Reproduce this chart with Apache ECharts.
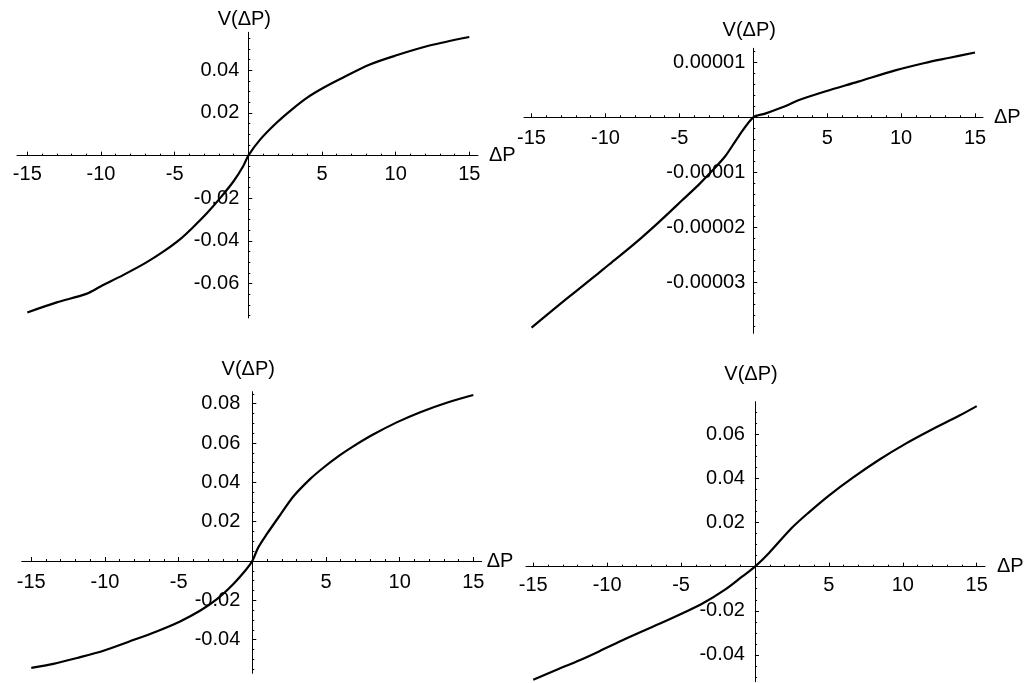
<!DOCTYPE html>
<html><head><meta charset="utf-8">
<script src="https://cdn.jsdelivr.net/npm/echarts@6/dist/echarts.min.js"></script>
<style>html,body{margin:0;padding:0;background:#fff}#c{width:1026px;height:683px}</style>
</head><body><div id="c"></div>
<script>
// ---- data ----
const xMajorTicks = [-15, -10, -5, 0, 5, 10, 15];
const xTickLabels = [-15, -10, -5, 5, 10, 15];
const xMinorTicks = [-15,-14,-13,-12,-11,-10,-9,-8,-7,-6,-5,-4,-3,-2,-1,0,1,2,3,4,5,6,7,8,9,10,11,12,13,14,15];

const dp1 = [-15,-13,-11,-10,-8.5,-7,-5.75,-4.6,-3.7,-2.8,-1.9,-1,-0.35,0,0.8,1.9,2.95,4,5.1,6.2,8.25,10,12.3,15];
const v1  = [-0.0735,-0.0688,-0.0648,-0.0612,-0.056,-0.0504,-0.0449,-0.039,-0.0332,-0.0269,-0.0198,-0.012,-0.005,0,0.0075,0.0153,0.0216,0.0272,0.0318,0.0358,0.0427,0.0469,0.0516,0.0556];
const yLabels1 = [-0.06, -0.04, -0.02, 0.02, 0.04];

const dp2 = [-15,-13.2,-12,-10.7,-9.8,-8.7,-7.55,-6.55,-5.75,-4.85,-3.7,-2.8,-1.9,-1,0,0.8,2.15,3.05,4.85,7.1,9.6,11.6,13.2,15];
const v2  = [-3.83e-5,-3.43e-5,-3.17e-5,-2.89e-5,-2.69e-5,-2.45e-5,-2.19e-5,-1.95e-5,-1.75e-5,-1.52e-5,-1.23e-5,-0.98e-5,-0.71e-5,-0.35e-5,0,0.067e-5,0.20e-5,0.31e-5,0.47e-5,0.65e-5,0.855e-5,0.99e-5,1.08e-5,1.18e-5];
const yLabels2 = [-0.00003, -0.00002, -0.00001, 0.00001];

const dp3 = [-15,-13.5,-11.9,-10.1,-8.3,-6.5,-4.9,-3.55,-2.4,-1.3,-0.4,0,0.4,0.97,1.9,2.8,3.9,4.8,5.95,6.85,8.2,9.8,11.4,13.2,15];
const v3  = [-0.0543,-0.0523,-0.0493,-0.0456,-0.0408,-0.0358,-0.0307,-0.0253,-0.0194,-0.0118,-0.0042,0,0.0068,0.0135,0.0235,0.0329,0.0415,0.0473,0.0538,0.0583,0.0643,0.0705,0.0757,0.0805,0.0844];
const yLabels3 = [-0.04, -0.02, 0.02, 0.04, 0.06, 0.08];

const dp4 = [-15,-13.25,-11.9,-10.55,-8.75,-6.5,-4.9,-3.55,-2,-0.85,0,0.95,2.5,3.65,5,6.6,8.4,10.2,12,13.8,15];
const v4  = [-0.0512,-0.0462,-0.0425,-0.0384,-0.0327,-0.026,-0.0211,-0.0167,-0.0103,-0.0044,0,0.0062,0.0176,0.0246,0.0322,0.0402,0.0484,0.0557,0.0622,0.0683,0.0727];
const yLabels4 = [-0.04, -0.02, 0.02, 0.04, 0.06];

const xName = 'ΔP';
const yName = 'V(ΔP)';

// ---- helpers ----
function minorSteps(lo, hi, step) {
  const out = [];
  const n = Math.round((hi - lo) / step);
  for (let k = 0; k <= n; k++) out.push(+(lo + k * step).toPrecision(10));
  return out;
}

const FONT = "'Liberation Sans', Arial, sans-serif";
const FS = 20;

const panels = [
  { dp: dp1, v: v1, yl: yLabels1, dec: 2, ymin: -0.0761, ymax: 0.0578, xmin: -15.70, xmax: 15.59,
    left: 17, top: 32.3, width: 461, height: 285.7, yMinor: minorSteps(-0.075, 0.055, 0.005),
    xLabMargin: 9, yLabMargin: 9, yNameGap: 3, xNameGap: 11, xNamePad: [6,0,0,0] },
  { dp: dp2, v: v2, yl: yLabels2, dec: 5, ymin: -3.934e-5, ymax: 1.257e-5, xmin: -15.51, xmax: 15.54,
    left: 524, top: 48.3, width: 459, height: 285, yMinor: minorSteps(-3.8e-5, 1.2e-5, 0.2e-5),
    xLabMargin: 11, yLabMargin: 8, yNameGap: 8, xNameGap: 11, xNamePad: [0,0,2,0] },
  { dp: dp3, v: v3, yl: yLabels3, dec: 2, ymin: -0.0571, ymax: 0.0861, xmin: -15.65, xmax: 15.57,
    left: 21.7, top: 391.7, width: 460, height: 281.6, yMinor: minorSteps(-0.055, 0.085, 0.005),
    xLabMargin: 11, yLabMargin: 12, yNameGap: 12, xNameGap: 5, xNamePad: [0,0,5,0] },
  { dp: dp4, v: v4, yl: yLabels4, dec: 2, ymin: -0.0521, ymax: 0.0747, xmin: -15.49, xmax: 15.56,
    left: 526, top: 401.7, width: 459, height: 280, yMinor: minorSteps(-0.05, 0.07, 0.005),
    xLabMargin: 8.5, yLabMargin: 10, yNameGap: 17, xNameGap: 12, xNamePad: [0,0,2,0] }
];

const grid = [], xAxis = [], yAxis = [], series = [];
const lineStyle = { color: '#000', width: 1 };

panels.forEach((p, k) => {
  grid.push({ left: p.left, top: p.top, width: p.width, height: p.height, containLabel: false, outerBoundsMode: 'none' });
  const mi = 2 * k;
  xAxis.push({
    type: 'value', gridIndex: k, position: 'bottom', min: p.xmin, max: p.xmax,
    name: xName, nameLocation: 'end', nameGap: p.xNameGap,
    nameTextStyle: { color: '#000', fontFamily: FONT, fontSize: FS, padding: p.xNamePad, verticalAlign: 'middle' },
    axisLine: { show: true, onZero: false, lineStyle },
    axisTick: { show: true, inside: true, length: 4, customValues: xMajorTicks, lineStyle },
    axisLabel: { show: true, customValues: xTickLabels, margin: p.xLabMargin, color: '#000', fontFamily: FONT, fontSize: FS,
      formatter: v => String(v) },
    splitLine: { show: false }
  });
  xAxis.push({
    type: 'value', gridIndex: k, position: 'bottom', min: p.xmin, max: p.xmax,
    axisLine: { show: false, onZero: false },
    axisTick: { show: true, inside: true, length: 2, customValues: xMinorTicks, lineStyle },
    axisLabel: { show: false }, splitLine: { show: false }
  });
  yAxis.push({
    type: 'value', gridIndex: k, position: 'left', min: p.ymin, max: p.ymax,
    name: yName, nameLocation: 'end', nameGap: p.yNameGap,
    nameTextStyle: { color: '#000', fontFamily: FONT, fontSize: FS, align: 'center', padding: [0, 8, 0, 0] },
    axisLine: { show: true, onZero: false, lineStyle },
    axisTick: { show: true, inside: true, length: 4, customValues: p.yl, lineStyle },
    axisLabel: { show: true, customValues: p.yl, margin: p.yLabMargin, color: '#000', fontFamily: FONT, fontSize: FS,
      formatter: v => v.toFixed(p.dec) },
    splitLine: { show: false }
  });
  yAxis.push({
    type: 'value', gridIndex: k, position: 'left', min: p.ymin, max: p.ymax,
    axisLine: { show: false, onZero: false },
    axisTick: { show: true, inside: true, length: 2, customValues: p.yMinor, lineStyle },
    axisLabel: { show: false }, splitLine: { show: false }
  });
  series.push({
    type: 'line', xAxisIndex: mi, yAxisIndex: mi,
    data: p.dp.map((x, i) => [x, p.v[i]]),
    showSymbol: false, smooth: 0.3,
    lineStyle: { color: '#000', width: 2.2 }, silent: true
  });
});

const chart = echarts.init(document.getElementById('c'), null, { renderer: 'canvas' });
chart.setOption({ animation: false, backgroundColor: '#fff', grid, xAxis, yAxis, series });

// Move axes so they cross at the data origin (position found through the library's scales)
const xUpd = [], yUpd = [];
panels.forEach((p, k) => {
  const mi = 2 * k;
  const o = chart.convertToPixel({ xAxisIndex: mi, yAxisIndex: mi }, [0, 0]);
  const xOff = -((p.top + p.height) - o[1]);
  const yOff = -(o[0] - p.left);
  xUpd.push({ offset: xOff }, { offset: xOff });
  yUpd.push({ offset: yOff }, { offset: yOff });
});
chart.setOption({ xAxis: xUpd, yAxis: yUpd });
</script>
</body></html>
